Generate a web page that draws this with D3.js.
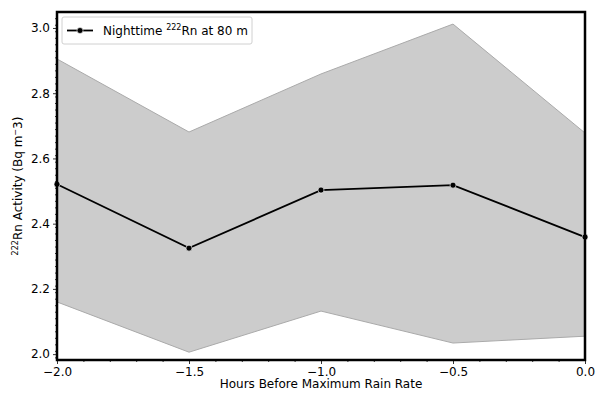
<!DOCTYPE html>
<html><head><meta charset="utf-8">
<script src="https://cdn.jsdelivr.net/npm/d3@7"></script>
<style>body{margin:0;background:#fff}text{font-family:"DejaVu Sans",sans-serif}</style>
</head><body><svg id="c" width="596" height="395"></svg>
<script>
const hours = [-2.0, -1.5, -1.0, -0.5, 0.0];
const meanRn = [2.521, 2.325, 2.503, 2.518, 2.359];
const upperRn = [2.905, 2.681, 2.859, 3.012, 2.678];
const lowerRn = [2.160, 2.006, 2.132, 2.034, 2.055];
const xTicks = [-2.0, -1.5, -1.0, -0.5, 0.0];
const yTicks = [2.0, 2.2, 2.4, 2.6, 2.8, 3.0];

const svg = d3.select("#c");
const L = 57, R = 585, T = 12, B = 360;
const x = d3.scaleLinear().domain([-2, 0]).range([L, R]);
const y = d3.scaleLinear().domain([1.982, 3.049]).range([B, T]);
const data = hours.map((h, i) => ({h, m: meanRn[i], u: upperRn[i], l: lowerRn[i]}));

svg.append("path").datum(data)
  .attr("d", d3.area().x(d => x(d.h)).y0(d => y(d.l)).y1(d => y(d.u)))
  .attr("fill", "#cccccc").attr("stroke", "#aaaaaa").attr("stroke-width", 1);

svg.append("path").datum(data)
  .attr("d", d3.line().x(d => x(d.h)).y(d => y(d.m)))
  .attr("fill", "none").attr("stroke", "#000").attr("stroke-width", 1.8);
svg.selectAll("circle.pt").data(data).join("circle").attr("class","pt")
  .attr("cx", d => x(d.h)).attr("cy", d => y(d.m)).attr("r", 3)
  .attr("fill", "#000").attr("stroke", "#fff").attr("stroke-width", 0.6);

// axes
const xAx = svg.append("g").attr("transform", `translate(0,${B})`)
  .call(d3.axisBottom(x).tickValues(xTicks).tickFormat(d => d3.format(".1f")(d).replace("-", "−")).tickSize(4).tickPadding(3));
const xMinor = d3.range(-2, 0.001, 0.1).filter(v => Math.abs(v*2 - Math.round(v*2)) > 1e-6);
svg.append("g").attr("transform", `translate(0,${B})`)
  .call(d3.axisBottom(x).tickValues(xMinor).tickFormat("").tickSize(2));
const yAx = svg.append("g").attr("transform", `translate(${L},0)`)
  .call(d3.axisLeft(y).tickValues(yTicks).tickFormat(d3.format(".1f")).tickSize(4).tickPadding(3));
const yMinor = d3.range(1.99, 3.049, 0.02).filter(v => Math.abs(v*5 - Math.round(v*5)) > 1e-6);
svg.append("g").attr("transform", `translate(${L},0)`)
  .call(d3.axisLeft(y).tickValues(yMinor).tickFormat("").tickSize(2));
svg.selectAll(".domain").remove();
svg.selectAll(".tick text").attr("font-size", 12).attr("fill", "#000").attr("font-family", "DejaVu Sans");
svg.selectAll(".tick line").attr("stroke", "#000").attr("stroke-width", 0.8);

svg.append("rect").attr("x", L).attr("y", T).attr("width", R - L).attr("height", B - T)
  .attr("fill", "none").attr("stroke", "#000").attr("stroke-width", 2.5);

svg.append("text").attr("x", (L + R) / 2).attr("y", 388).attr("text-anchor", "middle")
  .attr("font-size", 12).text("Hours Before Maximum Rain Rate");

const yl = svg.append("text").attr("transform", `translate(22,${(T + B) / 2}) rotate(-90)`)
  .attr("text-anchor", "middle").attr("font-size", 12);
yl.append("tspan").attr("font-size", 8).attr("dy", -4).text("222");
yl.append("tspan").attr("dy", 4).text("Rn Activity (Bq m");
yl.append("tspan").attr("font-size", 8).attr("dy", -4).text("−");
yl.append("tspan").attr("dy", 4).text("3)");

// legend
const lg = svg.append("g");
lg.append("rect").attr("x", 62).attr("y", 17).attr("width", 190).attr("height", 27).attr("rx", 2)
  .attr("fill", "#fff").attr("fill-opacity", 0.8).attr("stroke", "#d0d0d0");
lg.append("line").attr("x1", 67).attr("x2", 93).attr("y1", 30.5).attr("y2", 30.5).attr("stroke", "#000").attr("stroke-width", 1.8);
lg.append("circle").attr("cx", 80).attr("cy", 30.5).attr("r", 3).attr("fill", "#000").attr("stroke", "#fff").attr("stroke-width", 0.6);
const lt = lg.append("text").attr("x", 103).attr("y", 35).attr("font-size", 12);
lt.append("tspan").text("Nighttime ");
lt.append("tspan").attr("font-size", 8).attr("dy", -5).text("222");
lt.append("tspan").attr("dy", 5).text("Rn at 80 m");
</script></body></html>
